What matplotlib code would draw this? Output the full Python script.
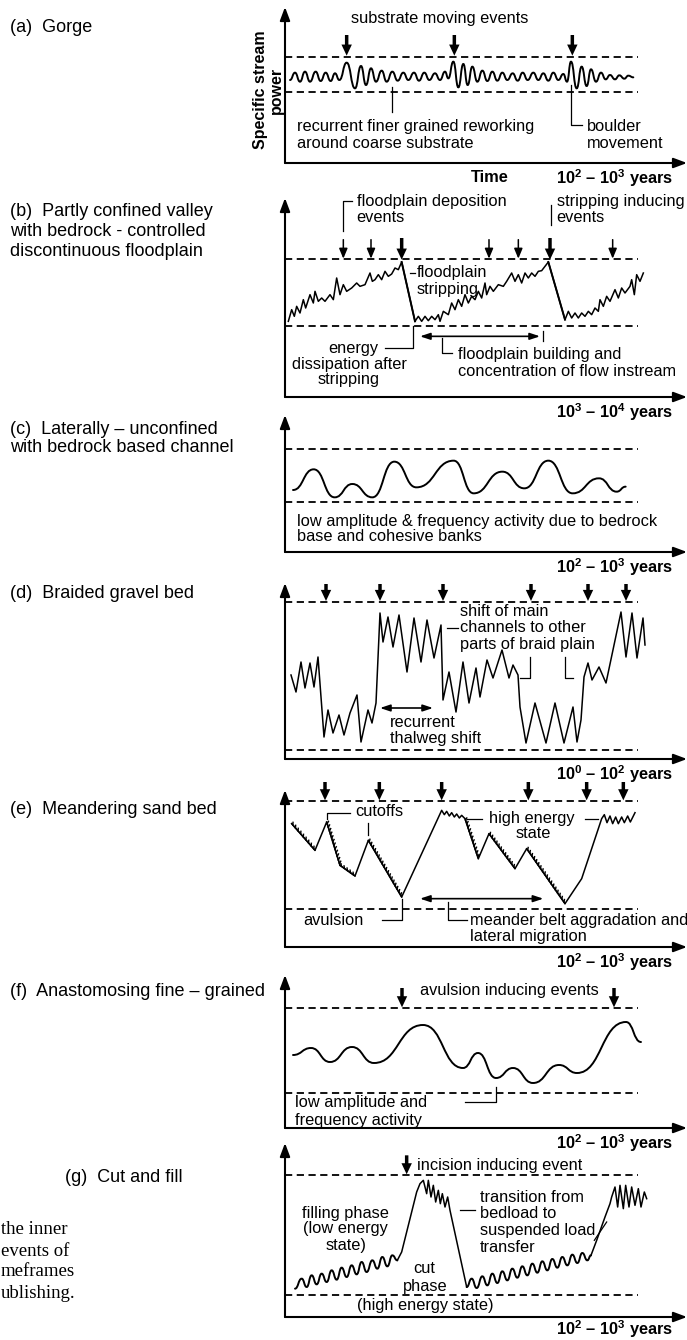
import matplotlib
matplotlib.use('Agg')
import matplotlib.pyplot as plt
from matplotlib.path import Path
from matplotlib.patches import PathPatch
from matplotlib import patheffects as pe

plt.rcParams['font.family'] = ['Liberation Sans', 'DejaVu Sans']
plt.rcParams['mathtext.fontset'] = 'custom'
plt.rcParams['mathtext.rm'] = 'Liberation Sans'
plt.rcParams['mathtext.bf'] = 'Liberation Sans:bold'

# ---- data: time (arbitrary units 0-1206) vs specific stream power ----
# (a) gorge
a_t = [15, 30, 45, 60, 75, 92, 107, 122, 137, 150, 163,
       185, 210, 228, 243, 258, 273, 290, 305, 322, 338, 355, 370, 387, 402, 418, 433, 450, 465, 480, 490,
       505, 520, 535, 548, 562, 577, 592, 607, 622, 637, 652, 667, 683, 698, 713, 728, 745, 760, 775, 790,
       805, 820, 835, 846,
       858, 875, 890, 905, 918, 933, 948, 962, 975, 990, 1003, 1018, 1030, 1045]
a_p = [249, 271, 244, 274, 244, 274, 246, 271, 246, 269, 249,
       301, 224, 291, 234, 284, 244, 277, 244, 274, 247, 271, 249, 271, 247, 271, 249, 269, 249, 274, 254,
       304, 227, 297, 234, 289, 244, 277, 246, 274, 247, 271, 249, 269, 247, 271, 249, 271, 249, 269, 247,
       271, 249, 267, 244,
       304, 224, 289, 231, 281, 244, 271, 251, 264, 251, 263, 253, 262, 257]
a_events = [185, 508, 862]

# (b) partly confined valley
b_t = [10, 20, 28, 35, 45, 55, 62, 75, 85, 90, 100, 110, 120, 135, 145, 155, 165, 175, 185, 200,
       215, 225, 240, 255, 262, 270, 280, 290, 300, 310, 320, 330, 340, 350,
       390, 400, 410, 420, 430, 440, 450, 460, 465, 475, 490, 500, 510, 520, 530, 540, 550, 560, 570, 580,
       590, 600, 605, 615, 625, 640, 655, 665, 680, 690, 700, 710, 720, 730, 740, 750, 760, 770, 790,
       840, 850, 860, 870, 880, 890, 900, 910, 920, 930, 940, 945, 955, 965, 975, 990, 1000, 1010, 1020, 1035,
       1040, 1048, 1055, 1065, 1075]
b_p = [227, 262, 242, 272, 252, 292, 267, 307, 282, 317, 287, 297, 287, 307, 292, 357, 307, 337, 317, 327,
       342, 332, 337, 372, 347, 352, 367, 352, 377, 362, 369, 387, 382, 405,
       227, 242, 227, 242, 229, 242, 232, 247, 227, 257, 247, 282, 262, 292, 272, 307, 282, 302, 292, 317,
       297, 342, 307, 332, 317, 337, 332, 347, 372, 347, 367, 342, 372, 357, 372, 362, 377, 379, 405,
       232, 257, 237, 252, 237, 252, 242, 257, 247, 267, 257, 292, 272, 302, 287, 322, 297, 327, 312, 332,
       352, 307, 367, 347, 372]
b_small = [175, 258, 612, 700, 983]
b_big = [350, 795]

# (c) laterally unconfined, bedrock based
c_t = [24, 86, 149, 202, 262, 328, 394, 506, 566, 652, 718, 790, 863, 942, 995, 1022]
c_p = [186, 248, 164, 204, 164, 271, 194, 274, 176, 241, 191, 274, 176, 221, 181, 196]

# (d) braided gravel bed
d_t = [18, 33, 48, 60, 75, 87, 99, 117, 129, 144, 162, 177, 195, 216, 228, 249, 261, 273, 285, 294,
       309, 324, 342, 366, 387, 408, 426, 447, 468, 474, 492, 513, 534, 552, 573, 585, 606, 624, 651, 672,
       684, 699, 705, 723, 750, 783, 810, 837, 864, 876, 888, 897, 909, 921, 942, 963, 1008, 1023, 1041, 1056,
       1074, 1080]
d_p = [252, 201, 291, 213, 288, 216, 306, 66, 147, 78, 132, 72, 138, 192, 51, 147, 108, 168, 438, 351,
       426, 336, 432, 261, 423, 291, 417, 303, 402, 177, 261, 141, 291, 168, 273, 186, 297, 243, 327, 243,
       282, 252, 156, 48, 168, 48, 168, 48, 156, 51, 117, 246, 288, 237, 276, 228, 441, 306, 438, 303,
       423, 342]
d_events = [123, 285, 474, 738, 909, 1023]

# (e) meandering sand bed
e_t = [20, 90, 125, 165, 210, 250, 350, 470, 478, 485, 493, 500, 508, 515, 523, 530, 540, 580, 612, 690,
       725, 840, 890, 950, 958, 966, 975, 983, 992, 1000, 1010, 1018, 1028, 1036, 1050]
e_p = [370, 290, 375, 245, 213, 320, 150, 410, 397, 407, 393, 403, 390, 399, 387, 395, 385, 265, 340, 235,
       295, 130, 205, 385, 397, 373, 393, 370, 390, 370, 390, 373, 393, 375, 403]
e_events = [120, 283, 470, 730, 905, 1015]

# (f) anastomosing fine grained
f_t = [24, 78, 135, 201, 267, 414, 534, 579, 633, 684, 744, 822, 876, 1023, 1068]
f_p = [219, 240, 198, 243, 195, 309, 180, 225, 150, 180, 135, 189, 165, 318, 258]
f_events = [351, 987]

# (g) cut and fill
g1_t = [30, 50, 65, 80, 95, 110, 125, 140, 155, 170, 185, 200, 215, 230, 245, 262, 277, 292, 307, 322, 337]
g1_p = [85, 115, 90, 125, 98, 130, 105, 140, 112, 148, 120, 155, 128, 165, 135, 170, 145, 180, 152, 185, 170]
g2_t = [337, 350, 375, 395, 405, 415, 425, 430, 438, 445, 452, 460, 466, 472, 480, 488, 495, 545]
g2_p = [170, 195, 295, 375, 400, 410, 370, 410, 360, 395, 345, 380, 340, 370, 330, 360, 320, 90]
g3_t = [545, 560, 575, 592, 607, 622, 637, 652, 667, 682, 697, 712, 727, 742, 757, 772, 787, 802, 817, 832,
        847, 862, 877, 892, 907, 918]
g3_p = [90, 115, 87, 122, 95, 130, 102, 137, 110, 145, 118, 152, 125, 160, 133, 167, 140, 174, 148, 180,
        155, 187, 162, 192, 170, 185]
g4_t = [918, 935, 960, 975, 980, 990, 998, 1005, 1015, 1022, 1032, 1040, 1050, 1060, 1068, 1078, 1085]
g4_p = [185, 230, 300, 340, 360, 390, 330, 395, 325, 395, 330, 390, 335, 385, 330, 375, 355]

W, HP = 687, 1340
FS = 11.8
fig = plt.figure(figsize=(W / 100, HP / 100), dpi=100)


def panel(axis_y, H):
    ax = fig.add_axes([285 / W, 1 - axis_y / HP, 402 / W, H / 3 / HP])
    ax.set_xlim(0, 1206)
    ax.set_ylim(0, H)
    ax.axis('off')
    ap = dict(arrowstyle='-|>,head_length=0.8,head_width=0.3', lw=1.5, color='k',
              mutation_scale=10, shrinkA=0, shrinkB=0)
    ax.annotate('', xy=(1, 0), xycoords='axes fraction', xytext=(0, 0), arrowprops=ap)
    ax.annotate('', xy=(0, 1), xycoords='axes fraction', xytext=(0, 0), arrowprops=ap)
    return ax


def limits(ax, lo, hi):
    ax.hlines([lo, hi], 0, 1060, colors='k', lw=1.3, linestyles=(0, (4, 2.5)))


def smooth(ax, ts, ps):
    verts = [(ts[0], ps[0])]
    codes = [Path.MOVETO]
    for i in range(1, len(ts)):
        m = (ts[i - 1] + ts[i]) / 2
        verts += [(m, ps[i - 1]), (m, ps[i]), (ts[i], ps[i])]
        codes += [Path.CURVE4] * 3
    ax.add_patch(PathPatch(Path(verts, codes), fill=False, lw=1.4, ec='k', capstyle='round'))


def arrow(ax, t, top, tip, heavy=True):
    if heavy:
        ap = dict(arrowstyle='simple,head_length=0.8,head_width=0.75,tail_width=0.25',
                  mutation_scale=10, fc='k', ec='k', lw=0, shrinkA=0, shrinkB=0)
    else:
        ap = dict(arrowstyle='-|>,head_length=0.6,head_width=0.25', mutation_scale=10,
                  color='k', lw=1.1, shrinkA=0, shrinkB=0)
    ax.annotate('', xy=(t, tip), xytext=(t, top), arrowprops=ap, annotation_clip=False)


def both(ax, t0, t1, p):
    ax.annotate('', xy=(t1, p), xytext=(t0, p), arrowprops=dict(
        arrowstyle='<|-|>,head_length=0.6,head_width=0.2', mutation_scale=10,
        color='k', lw=1.2, shrinkA=0, shrinkB=0))


def lead(ax, ts, ps):
    ax.plot(ts, ps, color='k', lw=0.9, clip_on=False)


def txt(ax, t, p, s, ha='left', **kw):
    ax.text(t, p, s, ha=ha, va='center', fontsize=FS, clip_on=False, **kw)


def years(ax, s, p=-45):
    ax.text(990, p, s, ha='center', va='center', fontsize=FS, fontweight='bold', clip_on=False)


Y23 = r'$\mathbf{10^{2}}$ – $\mathbf{10^{3}}$ years'

# titles on the left
titles = [(28, '(a)  Gorge'), (212, '(b)  Partly confined valley'), (232, 'with bedrock - controlled'),
          (252, 'discontinuous floodplain'), (430, '(c)  Laterally – unconfined'),
          (448, 'with bedrock based channel'), (593, '(d)  Braided gravel bed'),
          (810, '(e)  Meandering sand bed'), (992, '(f)  Anastomosing fine – grained')]
for y, s in titles:
    fig.text(10 / W, 1 - y / HP, s, fontsize=13, va='center')
fig.text(65 / W, 1 - 1178 / HP, '(g)  Cut and fill', fontsize=13, va='center')
for y, s in [(1230, 'the inner'), (1251, 'events of'), (1272, 'meframes'), (1293, 'ublishing.')]:
    fig.text(1 / W, 1 - y / HP, s, fontsize=13.5, va='center', family='Liberation Serif')

# (a)
ax = panel(163, 468)
limits(ax, 214, 317)
smooth(ax, a_t, a_p)
for t in a_events:
    arrow(ax, t, 384, 322)
txt(ax, 465, 434, 'substrate moving events', ha='center')
lead(ax, [322, 322], [227, 154])
lead(ax, [858, 858, 890], [234, 114, 114])
txt(ax, 35, 109, 'recurrent finer grained reworking')
txt(ax, 35, 59, 'around coarse substrate')
txt(ax, 905, 109, 'boulder')
txt(ax, 905, 59, 'movement')
ax.text(615, -45, 'Time', ha='center', va='center', fontsize=FS, fontweight='bold', clip_on=False)
years(ax, Y23)
ax.text(-75, 219, 'Specific stream', rotation=90, ha='center', va='center',
        fontsize=11.5, fontweight='bold', clip_on=False)
ax.text(-27, 219, 'power', rotation=90, ha='center', va='center',
        fontsize=11.5, fontweight='bold', clip_on=False)

# (b)
ax = panel(397, 597)
limits(ax, 214, 415)
ax.plot(b_t, b_p, color='k', lw=1.1)
ax.plot([b_t[33], b_t[34]], [b_p[33], b_p[34]], color='k', lw=1.4)
ax.plot([b_t[72], b_t[73]], [b_p[72], b_p[73]], color='k', lw=1.4)
for t in b_small:
    arrow(ax, t, 472, 415, heavy=False)
for t in b_big:
    arrow(ax, t, 477, 412)
lead(ax, [200, 175, 175], [587, 587, 497])
lead(ax, [797, 797], [577, 517])
txt(ax, 215, 587, 'floodplain deposition')
txt(ax, 215, 537, 'events')
txt(ax, 815, 587, 'stripping inducing')
txt(ax, 815, 537, 'events')
lead(ax, [375, 390], [372, 372])
txt(ax, 395, 372, 'floodplain')
txt(ax, 395, 322, 'stripping')
txt(ax, 205, 147, 'energy', ha='center')
txt(ax, 192, 97, 'dissipation after', ha='center')
txt(ax, 192, 52, 'stripping', ha='center')
lead(ax, [300, 385, 385], [147, 147, 212])
both(ax, 405, 765, 182)
lead(ax, [775, 775], [197, 167])
lead(ax, [470, 470, 500], [177, 132, 132])
txt(ax, 520, 127, 'floodplain building and')
txt(ax, 520, 77, 'concentration of flow instream')
years(ax, r'$\mathbf{10^{3}}$ – $\mathbf{10^{4}}$ years')

# (c)
ax = panel(552, 411)
limits(ax, 150, 309)
smooth(ax, c_t, c_p)
txt(ax, 36, 91, 'low amplitude & frequency activity due to bedrock')
txt(ax, 36, 46, 'base and cohesive banks')
years(ax, Y23)

# (d)
ax = panel(759, 528)
limits(ax, 27, 471)
ax.plot(d_t, d_p, color='k', lw=1.1)
for t in d_events:
    arrow(ax, t, 525, 474)
txt(ax, 525, 441, 'shift of main')
txt(ax, 525, 393, 'channels to other')
txt(ax, 525, 342, 'parts of braid plain')
lead(ax, [486, 519], [393, 393])
lead(ax, [705, 735, 735], [243, 243, 306])
lead(ax, [840, 840, 865], [306, 243, 243])
both(ax, 285, 444, 153)
txt(ax, 315, 111, 'recurrent')
txt(ax, 315, 63, 'thalweg shift')
years(ax, r'$\mathbf{10^{0}}$ – $\mathbf{10^{2}}$ years')

# (e)
ax = panel(947, 471)
limits(ax, 113, 437)
ax.plot(e_t, e_p, color='k', lw=1.1)
rough = [(0, 1), (2, 3), (3, 4), (5, 6), (16, 17), (18, 19), (20, 21)]
for i, j in rough:
    ax.plot([e_t[i], e_t[j]], [e_p[i], e_p[j]], color='k', lw=1.0,
            path_effects=[pe.withTickedStroke(spacing=2.6, angle=135, length=0.75)])
for t in e_events:
    arrow(ax, t, 495, 440)
lead(ax, [125, 125, 195], [385, 403, 403])
txt(ax, 210, 405, 'cutoffs')
lead(ax, [250, 250], [373, 337])
lead(ax, [545, 590], [385, 385])
lead(ax, [900, 940], [385, 385])
txt(ax, 740, 385, 'high energy', ha='center')
txt(ax, 745, 340, 'state', ha='center')
txt(ax, 55, 80, 'avulsion')
lead(ax, [290, 350, 350], [80, 80, 145])
both(ax, 405, 775, 145)
lead(ax, [488, 488, 545], [135, 80, 80])
txt(ax, 555, 80, 'meander belt aggradation and')
txt(ax, 555, 30, 'lateral migration')
years(ax, Y23)

# (f)
ax = panel(1128, 459)
limits(ax, 105, 360)
smooth(ax, f_t, f_p)
for t in f_events:
    arrow(ax, t, 420, 362)
txt(ax, 672, 411, 'avulsion inducing events', ha='center')
lead(ax, [540, 633, 633], [78, 78, 123])
txt(ax, 30, 75, 'low amplitude and')
txt(ax, 30, 24, 'frequency activity')
years(ax, Y23)

# (g)
ax = panel(1317, 522)
limits(ax, 65, 425)
smooth(ax, g1_t, g1_p)
ax.plot(g2_t, g2_p, color='k', lw=1.1)
smooth(ax, g3_t, g3_p)
ax.plot(g4_t, g4_p, color='k', lw=1.1)
arrow(ax, 365, 485, 428)
txt(ax, 395, 455, 'incision inducing event')
txt(ax, 182, 310, 'filling phase', ha='center')
txt(ax, 182, 265, '(low energy', ha='center')
txt(ax, 182, 215, 'state)', ha='center')
txt(ax, 418, 145, 'cut', ha='center')
txt(ax, 420, 90, 'phase', ha='center')
txt(ax, 420, 35, '(high energy state)', ha='center')
lead(ax, [525, 570], [322, 322])
txt(ax, 585, 360, 'transition from')
txt(ax, 585, 310, 'bedload to')
txt(ax, 585, 260, 'suspended load')
txt(ax, 585, 210, 'transfer')
lead(ax, [928, 965], [230, 285])
years(ax, Y23, p=-36)

fig.savefig('out.png', dpi=100)
